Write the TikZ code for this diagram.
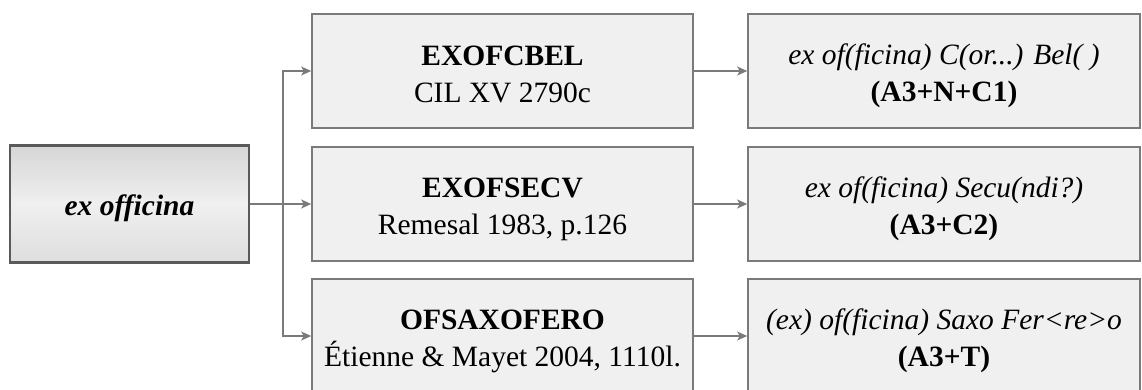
\documentclass[tikz,border=0pt]{standalone}
\usepackage{fontspec}
\setmainfont{Liberation Serif}
\usetikzlibrary{arrows.meta}
\definecolor{boxline}{HTML}{7A7A7A}
\definecolor{boxfill}{HTML}{F0F0F0}
\definecolor{rootline}{HTML}{5A5A5A}
\definecolor{linkcol}{HTML}{7A7A7A}
% struts that fix where the lines sit inside each box
\newcommand\upstrut{\rule{0pt}{30pt}}
\newcommand\downstrut{\rule[-4pt]{0pt}{4pt}}
\begin{document}
\begin{tikzpicture}[x=1pt,y=1pt,
  every node/.style={font=\fontsize{29.5}{36.5}\selectfont, align=center, inner sep=0pt},
  entrybox/.style={draw=boxline, line width=1.6pt, fill=boxfill,
    minimum width=381pt, minimum height=114pt},
  readbox/.style={entrybox, minimum width=392pt},
  rootbox/.style={draw=rootline, line width=2.8pt,
    top color=gray!32, bottom color=gray!26, middle color=gray!12,
    minimum width=239pt, minimum height=117pt},
  link/.style={draw=linkcol, line width=1.4pt,
    -{Stealth[length=10pt,width=9pt,inset=2.5pt]}}]
\useasboundingbox (0,0) rectangle (1142,-389);
% root term
\node[rootbox] (l) at (129.5,-204) {\upstrut\textbf{\textit{ex officina}}\downstrut};
% stamp readings
\node[entrybox] (m1) at (502.5,-71) {\upstrut\textbf{EXOFCBEL}\\CIL XV 2790c\downstrut};
\node[entrybox] (m2) at (502.5,-204) {\upstrut\textbf{EXOFSECV}\\Remesal 1983, p.126\downstrut};
\node[entrybox] (m3) at (502.5,-336) {\upstrut\textbf{OFSAXOFERO}\\Étienne \& Mayet 2004, 1110l.\downstrut};
% interpretations
\node[readbox] (r1) at (944,-71) {\upstrut\textit{ex of(ficina) C(or...) Bel( )}\\\textbf{(A3+N+C1)}\downstrut};
\node[readbox] (r2) at (944,-204) {\upstrut\textit{ex of(ficina) Secu(ndi?)}\\\textbf{(A3+C2)}\downstrut};
\node[readbox] (r3) at (944,-336) {\upstrut\textit{(ex) of(ficina) Saxo Fer<re>o}\\\textbf{(A3+T)}\downstrut};
% fork from the root
\coordinate (fork) at (283,-204);
\draw[link] (l.east) -- (fork) |- (m1.west);
\draw[link] (l.east) -- (m2.west);
\draw[link] (fork) |- (m3.west);
% readings to interpretations
\draw[link] (m1.east) -- (r1.west);
\draw[link] (m2.east) -- (r2.west);
\draw[link] (m3.east) -- (r3.west);
\end{tikzpicture}
\end{document}
